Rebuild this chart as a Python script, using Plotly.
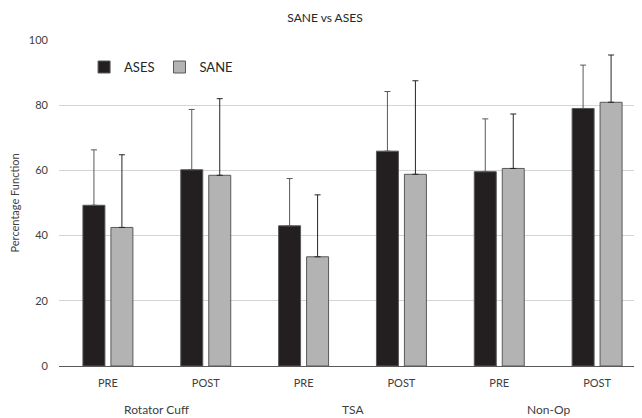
import plotly.graph_objects as go

groups = ["Rotator Cuff", "TSA", "Non-Op"]
phases = ["PRE", "POST", "PRE", "POST", "PRE", "POST"]

ases_values = [49.3, 60.2, 43.0, 65.9, 59.6, 79.0]
ases_err = [17.0, 18.5, 14.5, 18.3, 16.2, 13.3]
sane_values = [42.5, 58.5, 33.5, 58.8, 60.6, 80.9]
sane_err = [22.3, 23.5, 19.0, 28.7, 16.7, 14.5]

y_ticks = [0, 20, 40, 60, 80, 100]

font_family = "Lato, Open Sans, sans-serif"
xpos = list(range(len(phases)))

fig = go.Figure()
fig.add_trace(go.Bar(
    name="ASES", x=xpos, y=ases_values,
    marker=dict(color="#231f20", line=dict(color="#595959", width=1)),
    error_y=dict(type="data", symmetric=False, array=ases_err,
                 arrayminus=[0] * len(ases_err),
                 color="#595959", thickness=1, width=3),
))
fig.add_trace(go.Bar(
    name="SANE", x=xpos, y=sane_values,
    marker=dict(color="#b3b3b3", line=dict(color="#595959", width=1)),
    error_y=dict(type="data", symmetric=False, array=sane_err,
                 arrayminus=[0] * len(sane_err),
                 color="#262626", thickness=1, width=3),
))

for i, g in enumerate(groups):
    fig.add_annotation(x=2 * i + 0.5, xref="x", y=0, yref="paper", yshift=-43,
                       text=g, showarrow=False, yanchor="middle",
                       font=dict(size=12, color="#404040"))

# page is offset by the browser's default 8px body margin
fig.update_layout(
    width=634, height=410,
    margin=dict(l=51, r=0, t=32, b=52),
    paper_bgcolor="white", plot_bgcolor="white",
    barmode="group", bargap=0.428, bargroupgap=0.214,
    font=dict(family=font_family, size=11, color="#404040"),
    title=dict(text="SANE vs ASES", x=0.5, xref="container", y=0.976, yanchor="middle",
               font=dict(size=12, color="#262626")),
    legend=dict(orientation="h", x=0.043, y=0.917, xanchor="left", yanchor="middle",
                font=dict(size=13, color="#262626"), bgcolor="rgba(0,0,0,0)",
                itemwidth=30),
    showlegend=True,
)
fig.update_yaxes(
    range=[0, 100], tickvals=y_ticks, showgrid=True, gridcolor="#d4d4d4", gridwidth=1,
    zeroline=False, showline=False, ticks="", ticklabelstandoff=10, automargin=False,
    title=dict(text="Percentage Function", font=dict(size=11, color="#404040"), standoff=25),
    tickfont=dict(size=11, color="#404040"),
)
fig.update_xaxes(
    range=[-0.5, 5.459], tickvals=xpos, ticktext=phases,
    showline=True, linecolor="#595959", linewidth=1, automargin=False,
    ticks="", ticklabelstandoff=7, tickfont=dict(size=11, color="#404040"), showgrid=False,
    zeroline=False,
)

fig.write_html("out.html")
